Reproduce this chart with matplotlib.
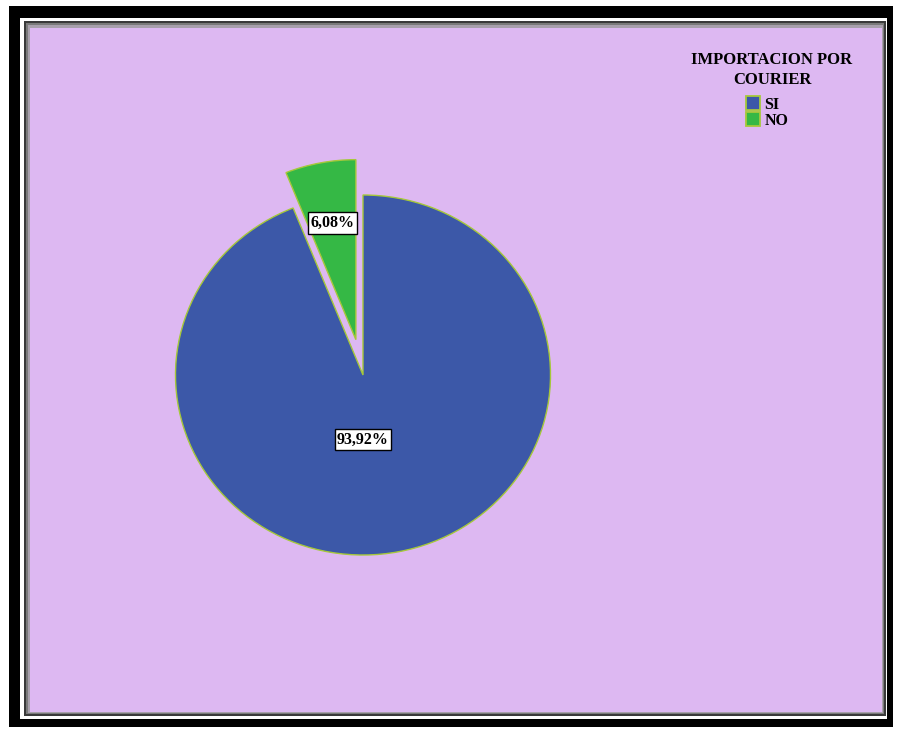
import numpy as np
import matplotlib.pyplot as plt
from matplotlib.patches import Rectangle
from matplotlib.lines import Line2D

#______________________________________________________ Data ______________________________________________________
categories = ["SI", "NO"]
values = [93.92, 6.08]
colors = ["#3C58A8", "#35B845"]
explode = [0.0, 0.2]
legend_title = "IMPORTACION POR\nCOURIER"

#______________________________________________________ Figure ______________________________________________________
W, H = 898, 730
fig = plt.figure(figsize=(W / 100, H / 100), dpi=100)
fig.patch.set_facecolor("white")

def frame(x0, y0, x1, y1, color, z):
    fig.patches.append(Rectangle((x0 / W, 1 - y1 / H), (x1 - x0) / W, (y1 - y0) / H,
                                 transform=fig.transFigure, facecolor=color,
                                 edgecolor="none", zorder=z))

frame(9, 6, 893, 727, "black", -10)
frame(20, 18, 887, 719, "white", -9)
frame(24, 21, 886, 716, "#3a3a3a", -8)
frame(26, 23, 884, 714, "#7a7a7a", -7)
frame(28, 25, 883, 713, "#a8a0ac", -6)
frame(30, 28, 882, 712, "#DDB8F2", -5)

#______________________________________________________ Pie ______________________________________________________
cx, cy = 363, 375      # pixel centre of the pie
rx, ry = 187.5, 180.0  # pixel radii (slightly squashed)

ax = fig.add_axes([0, 0, 1, 1])
ax.patch.set_alpha(0)

def pct(p):
    return f"{p:.2f}%".replace(".", ",")

wedges, texts, autotexts = ax.pie(values, colors=colors, explode=explode,
                                  startangle=90, counterclock=False,
                                  autopct=pct, pctdistance=0.66,
                                  wedgeprops=dict(edgecolor="#A6C83A", linewidth=1.0))
ax.set_aspect("auto")
ax.set_xlim(-cx / rx, (W - cx) / rx)
ax.set_ylim(-(H - cy) / ry, cy / ry)
ax.axis("off")

for t in autotexts:
    t.set_fontfamily("Liberation Serif")
    t.set_fontweight("bold")
    t.set_fontsize(11.5)
    t.set_color("black")
    t.set_bbox(dict(facecolor="white", edgecolor="black", linewidth=1.0, boxstyle="square,pad=0.16"))
autotexts[0].set_position((0.0, -0.36))

#______________________________________________________ Legend ______________________________________________________
fig.text(772 / W, 1 - 52 / H, legend_title, ha="center", va="top",
         fontfamily="Liberation Serif", fontweight="bold", fontsize=12,
         linespacing=1.3)
handles = [Line2D([], [], marker="s", linestyle="none", markersize=10,
                  markerfacecolor=c, markeredgecolor="#A6C83A", markeredgewidth=1.3)
           for c in colors]
fig.legend(handles, categories, loc="upper left", bbox_to_anchor=(747 / W, 1 - 97 / H),
           frameon=False, prop=dict(family="Liberation Serif", weight="bold", size=11.5),
           handlelength=0.8, handletextpad=0.3, labelspacing=0.0, borderpad=0, borderaxespad=0)

fig.savefig("out.png", dpi=100)
